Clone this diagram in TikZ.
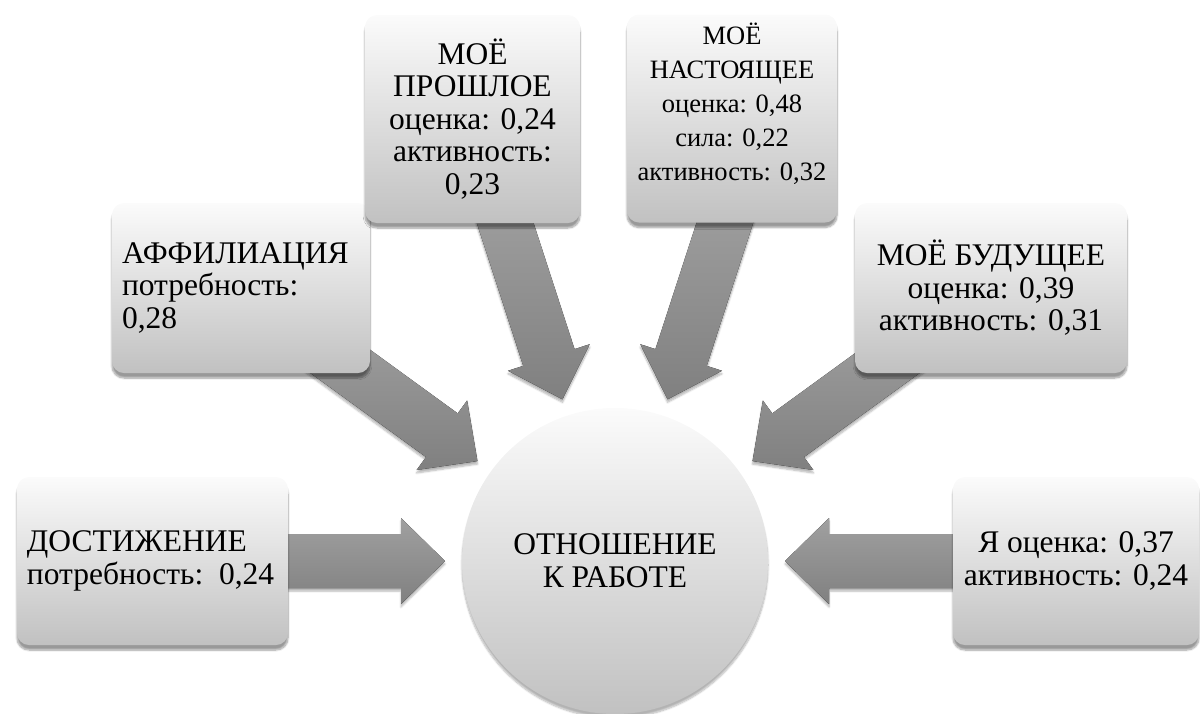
\documentclass[tikz,border=0pt]{standalone}
\usepackage{fontspec}
\setmainfont{Liberation Serif}
\newfontfamily\tnr{Liberation Serif}
\usetikzlibrary{shadows.blur}
\definecolor{boxtop}{RGB}{251,251,251}
\definecolor{boxbot}{RGB}{193,193,193}
\definecolor{arrtop}{RGB}{160,160,160}
\definecolor{arrbot}{RGB}{128,128,128}
\tikzset{
  card/.style={draw=none, rounded corners=12pt, top color=boxtop, bottom color=boxbot,
    blur shadow={shadow xshift=0pt, shadow yshift=-5pt, shadow blur steps=8, shadow opacity=40},
    font=\tnr\fontsize{31.5}{32.5}\selectfont, inner xsep=10pt, inner ysep=6pt},
  cardtext/.style={inner sep=0pt, align=center, font=\tnr\fontsize{26.5}{34}\selectfont},
  hub/.style={circle, draw=none, minimum size=306pt, inner sep=0pt, top color=boxtop, bottom color=boxbot,
    blur shadow={shadow xshift=0pt, shadow yshift=-4pt, shadow blur steps=8, shadow opacity=30},
    font=\tnr\fontsize{31.5}{33}\selectfont, align=center},
  bigarrow/.style={top color=arrtop, bottom color=arrbot,
    blur shadow={shadow xshift=0pt, shadow yshift=-3pt, shadow blur steps=6, shadow opacity=30}}
}
\begin{document}
\begin{tikzpicture}[x=1pt,y=-1pt]
\useasboundingbox (0,0) rectangle (1200,713);
\clip (0,0) rectangle (1200,713);
\coordinate (ctr) at (615,561);
\foreach \a in {0,36,72,108,144,180}{
  \begin{scope}[shift={(ctr)}, rotate=\a]
    \fill[bigarrow] (170,0) -- (214,43) -- (214,27) -- (380,27) -- (380,-27) -- (214,-27) -- (214,-43) -- cycle;
  \end{scope}
}
\node[card, text width=251pt, align=left, minimum height=168pt] (b1) at (152.5,561)
  {ДОСТИЖЕНИЕ\\потребность: 0,24};
\node[card, text width=238pt, align=left, minimum height=170pt] (b2) at (241,288)
  {АФФИЛИАЦИЯ\\потребность:\\0,28};
\node[card, minimum width=215pt, minimum height=208pt, align=center] (b3) at (472.5,119)
  {МОЁ\\ПРОШЛОЕ\\оценка: 0,24\\активность:\\0,23};
\node[card, minimum width=210pt, minimum height=208pt] (b4) at (732,118.5) {};
\node[cardtext] (b4t) at ([yshift=15pt]b4.center)
  {МОЁ\\НАСТОЯЩЕЕ\\оценка: 0,48\\сила: 0,22\\активность: 0,32};
\node[card, minimum width=272pt, minimum height=170pt, align=center] (b5) at (991,288)
  {МОЁ БУДУЩЕЕ\\оценка: 0,39\\активность: 0,31};
\node[card, minimum width=246pt, minimum height=168pt, align=center] (b6) at (1076,561)
  {Я оценка: 0,37\\активность: 0,24};
\node[hub] (c) at (ctr) {ОТНОШЕНИЕ\\К РАБОТЕ};
\end{tikzpicture}
\end{document}
